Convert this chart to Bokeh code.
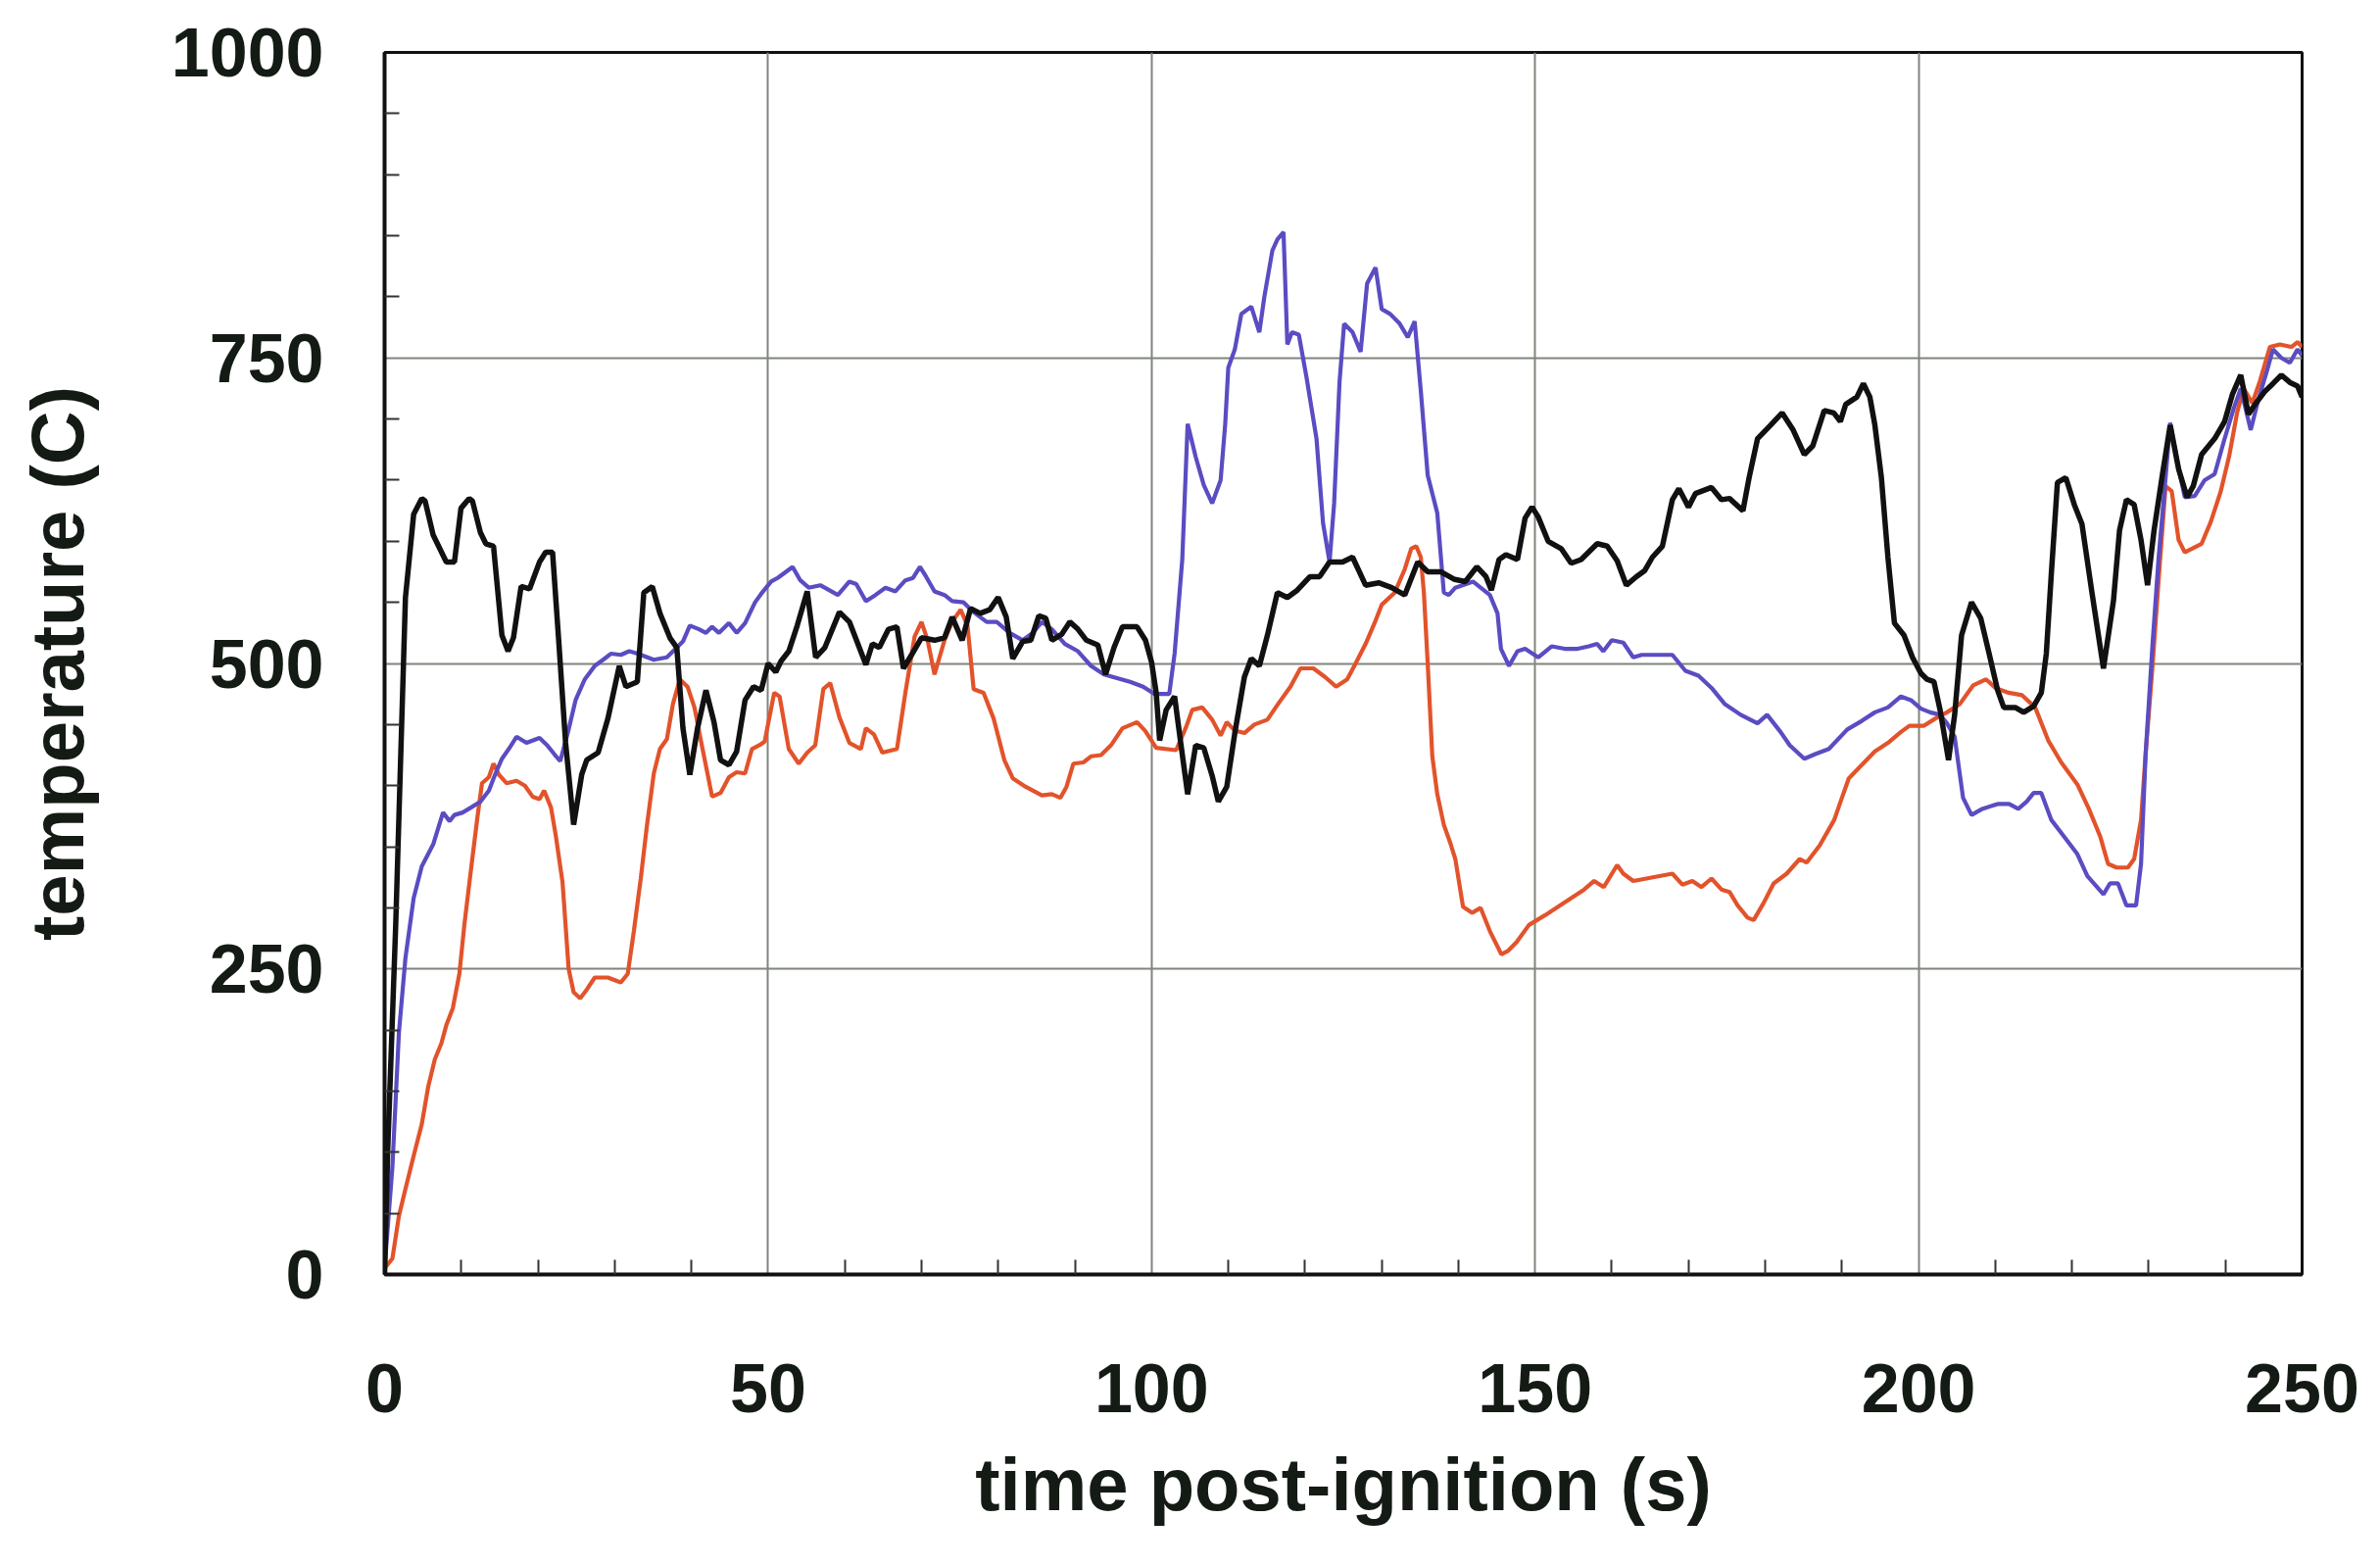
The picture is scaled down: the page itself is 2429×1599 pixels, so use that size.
from bokeh.plotting import figure
from bokeh.models import FixedTicker, Range1d
from bokeh.embed import file_html
from bokeh.resources import INLINE

# (time s, temperature C)
black_series = [
    (0, 0), (0.4, 100), (1.45, 286), (2.72, 554), (3.79, 622), (4.85, 635), (5.28, 633), (6.34, 605),
    (8.05, 583), (9.11, 583), (9.96, 627), (11.03, 635), (11.45, 633), (12.5, 607), (13.2, 598),
    (14.2, 596), (15.3, 523), (16.1, 510), (16.8, 521), (17.8, 563), (18.9, 561), (20.2, 583),
    (21.0, 591), (21.9, 591), (22.7, 519), (23.6, 435), (24.65, 368), (25.7, 409), (26.35, 421),
    (27.84, 427), (29.12, 455), (30.6, 498), (31.46, 481), (32.95, 485), (33.8, 558), (34.9, 563),
    (35.9, 541), (37.2, 521), (38.1, 513), (38.9, 447), (39.8, 409), (40.8, 447), (41.9, 478),
    (42.95, 452), (43.8, 421), (44.9, 417), (45.9, 428), (47.0, 470), (48.1, 481), (49.1, 478),
    (50.0, 500), (51.0, 493), (51.7, 502), (52.7, 510), (53.8, 531), (55.1, 559), (56.2, 505),
    (57.4, 513), (59.3, 542), (60.6, 534), (62.75, 499), (63.6, 516), (64.5, 513), (65.7, 528),
    (66.8, 530), (67.65, 496), (68.7, 507), (70.0, 521), (71.7, 519), (73.0, 521), (74.0, 538),
    (75.3, 519), (76.4, 545), (77.65, 541), (78.9, 544), (80.0, 554), (81.05, 538), (81.9, 504),
    (83.2, 518), (84.25, 519), (85.3, 539), (86.2, 537), (87.0, 519), (88.3, 524), (89.35, 534),
    (90.4, 528), (91.5, 519), (93.0, 515), (94.0, 491), (95.1, 513), (96.2, 530), (98.1, 530),
    (99.2, 519), (100.0, 501), (100.6, 476), (101.05, 437), (101.9, 462), (103.0, 473), (103.8, 435),
    (104.7, 393), (105.75, 433), (106.8, 431), (107.9, 408), (108.7, 387), (109.8, 399), (110.85, 443),
    (112.1, 489), (113.0, 504), (114.05, 498), (115.1, 523), (116.4, 558), (117.7, 554), (119.0, 560),
    (120.65, 571), (121.9, 571), (123.2, 583), (124.9, 583), (126.2, 587), (127.9, 564), (129.6, 566),
    (131.3, 562), (133.0, 556), (134.7, 583), (136.0, 575), (137.7, 575), (139.4, 569), (140.9, 567),
    (142.4, 579), (143.6, 571), (144.3, 560), (145.3, 585), (146.2, 589), (147.7, 585), (148.7, 619),
    (149.6, 628), (150.4, 620), (151.7, 600), (153.4, 594), (154.7, 582), (156.0, 585), (158.1, 598),
    (159.4, 596), (160.7, 584), (161.9, 564), (163.2, 571), (164.3, 576), (165.3, 587), (166.6, 596),
    (167.9, 634), (168.75, 643), (170.0, 628), (170.9, 639), (173.0, 644), (174.3, 634), (175.35, 635),
    (177.1, 625), (177.9, 652), (179.0, 684), (180.7, 695), (182.2, 705), (183.65, 691), (185.1, 671),
    (186.2, 678), (187.7, 707), (188.95, 705), (189.8, 698), (190.5, 712), (191.95, 718), (192.8, 729),
    (193.65, 718), (194.3, 695), (195.15, 652), (196.0, 587), (196.85, 533), (198.1, 523), (199.2, 505),
    (200.3, 492), (201.1, 487), (202.0, 485), (202.8, 462), (203.9, 421), (204.7, 458), (205.6, 523),
    (206.9, 550), (208.1, 537), (209.2, 508), (210.3, 478), (211.1, 464), (212.6, 464), (213.7, 460),
    (215.0, 465), (216.0, 476), (216.65, 508), (217.3, 573), (218.1, 648), (219.2, 652), (220.3, 630),
    (221.3, 614), (222.6, 558), (224.1, 496), (225.4, 551), (226.2, 609), (227.1, 634), (228.1, 630),
    (229.0, 601), (229.85, 564), (230.7, 609), (231.8, 655), (232.8, 695), (233.9, 659), (235.0, 636),
    (235.8, 645), (236.9, 671), (238.6, 684), (239.9, 698), (240.9, 720), (242.0, 736), (243.0, 704),
    (244.1, 714), (245.2, 723), (246.2, 729), (247.3, 736), (248.4, 730), (249.4, 727), (250.0, 718),
]

blue_series = [
    (0, 5), (1.02, 88), (1.87, 198), (2.72, 259), (3.79, 308), (4.85, 334), (6.34, 352), (7.62, 378),
    (8.47, 371), (9.11, 376), (10.17, 378), (11.24, 382), (12.5, 387), (13.6, 396), (14.4, 409),
    (15.3, 422), (16.3, 431), (17.2, 440), (18.5, 435), (20.2, 439), (21.2, 433), (22.1, 426),
    (22.9, 420), (24.0, 446), (24.9, 470), (26.1, 487), (27.4, 498), (28.7, 504), (29.5, 508),
    (30.8, 507), (31.9, 510), (33.0, 508), (35.1, 503), (36.8, 505), (38.1, 513), (38.9, 518),
    (39.8, 531), (41.0, 528), (41.9, 525), (42.7, 530), (43.6, 525), (44.9, 533), (45.9, 525),
    (47.0, 533), (48.3, 550), (49.1, 557), (50.4, 567), (51.25, 570), (53.2, 579), (54.2, 568),
    (55.3, 562), (56.8, 564), (59.1, 556), (60.6, 567), (61.5, 565), (62.75, 551), (64.0, 556),
    (65.3, 562), (66.6, 559), (67.9, 568), (68.9, 570), (69.8, 579), (70.6, 571), (71.7, 559),
    (73.0, 556), (74.0, 551), (75.5, 550), (76.8, 542), (78.5, 534), (79.8, 534), (81.5, 525),
    (83.2, 519), (84.5, 525), (85.7, 534), (87.0, 528), (88.7, 516), (90.4, 510), (92.1, 498),
    (93.8, 491), (95.5, 488), (97.2, 485), (98.9, 481), (100.4, 475), (102.3, 475), (103.0, 508),
    (104.0, 585), (104.7, 696), (105.75, 669), (106.8, 646), (107.9, 631), (109.0, 650), (109.6, 696),
    (110.0, 742), (110.85, 757), (111.7, 786), (113.0, 792), (114.05, 771), (114.7, 800), (115.75, 838),
    (116.4, 847), (117.2, 853), (117.7, 761), (118.3, 771), (119.2, 769), (120.2, 734), (121.5, 684),
    (122.35, 615), (123.2, 583), (123.8, 631), (124.5, 730), (125.1, 778), (126.2, 771), (127.25, 755),
    (128.1, 811), (129.2, 824), (130.0, 790), (131.1, 786), (132.35, 778), (133.4, 767), (134.3, 780),
    (135.1, 723), (136.0, 654), (137.25, 623), (138.1, 558), (138.75, 556), (139.6, 562), (141.9, 567),
    (144.1, 556), (145.1, 541), (145.55, 512), (146.6, 498), (147.7, 510), (148.7, 512), (150.4, 505),
    (152.15, 514), (153.85, 512), (155.55, 512), (157.0, 514), (158.1, 516), (158.9, 510), (160.0, 519),
    (161.5, 517), (162.8, 505), (163.9, 507), (165.3, 507), (167.9, 507), (169.6, 494), (171.3, 490),
    (173.0, 480), (174.7, 467), (176.8, 458), (179.0, 451), (180.25, 458), (182.0, 444), (183.2, 433),
    (185.1, 422), (186.6, 426), (188.3, 430), (190.7, 446), (192.6, 453), (194.3, 460), (196.0, 464),
    (197.7, 473), (199.0, 470), (200.3, 463), (201.5, 460), (202.8, 458), (203.7, 451), (204.7, 440),
    (205.8, 390), (206.9, 376), (208.3, 381), (210.3, 385), (211.8, 385), (213.0, 381), (214.1, 387),
    (215.0, 394), (216.0, 394), (217.3, 372), (219.0, 358), (220.7, 344), (222.0, 326), (224.1, 311),
    (224.95, 320), (226.0, 320), (227.1, 302), (228.35, 302), (229.0, 336), (229.6, 426), (230.5, 516),
    (231.3, 587), (232.2, 652), (232.8, 697), (233.7, 666), (234.7, 636), (236.0, 637), (237.3, 650),
    (238.6, 655), (239.9, 684), (241.1, 709), (242.0, 725), (243.3, 691), (244.3, 716), (245.4, 739),
    (246.2, 757), (247.3, 750), (248.4, 746), (249.4, 757), (250.0, 752),
]

orange_series = [
    (0, 5), (1.02, 13), (1.87, 48), (2.72, 70), (3.79, 97), (4.85, 123), (5.7, 154), (6.55, 176),
    (7.4, 189), (8.05, 204), (8.9, 218), (9.75, 246), (10.4, 286), (11.24, 330), (12.1, 374),
    (12.7, 402), (13.6, 407), (14.2, 418), (14.9, 409), (15.9, 402), (17.2, 404), (18.3, 400),
    (19.3, 391), (20.2, 389), (20.8, 396), (21.7, 382), (22.3, 360), (23.2, 321), (24.0, 250),
    (24.65, 231), (25.5, 226), (26.35, 233), (27.4, 243), (29.1, 243), (30.8, 239), (31.7, 246),
    (32.5, 281), (33.4, 324), (34.2, 367), (35.1, 410), (35.9, 430), (36.8, 438), (37.6, 467),
    (38.5, 487), (39.5, 481), (40.4, 464), (41.3, 435), (42.7, 391), (43.8, 394), (44.9, 407),
    (45.9, 411), (47.0, 410), (47.9, 430), (49.1, 434), (49.55, 436), (50.8, 476), (51.5, 473),
    (52.7, 430), (54.0, 418), (55.1, 427), (56.15, 433), (57.2, 479), (58.1, 484), (59.3, 456),
    (60.6, 435), (62.1, 430), (62.75, 447), (63.8, 442), (64.9, 427), (66.8, 430), (67.9, 476),
    (69.1, 522), (70.0, 534), (70.8, 519), (71.7, 491), (73.0, 519), (74.0, 534), (75.1, 544),
    (76.0, 531), (76.8, 479), (78.1, 476), (79.4, 455), (80.8, 421), (81.9, 406), (83.6, 399),
    (85.7, 392), (87.0, 393), (88.1, 390), (88.9, 399), (89.8, 418), (91.1, 419), (92.1, 424),
    (93.4, 425), (94.7, 433), (96.2, 447), (98.1, 452), (99.15, 445), (100.6, 431), (103.2, 429),
    (104.5, 448), (105.3, 462), (106.6, 464), (107.9, 454), (109.0, 441), (109.8, 452), (110.85, 445),
    (112.1, 443), (113.4, 450), (115.1, 454), (116.4, 466), (118.1, 481), (119.4, 496), (121.1, 496),
    (122.6, 489), (124.05, 481), (125.5, 487), (126.6, 500), (127.9, 516), (129.2, 535), (130.0, 548),
    (131.7, 558), (133.0, 577), (133.85, 594), (134.5, 596), (135.1, 587), (135.5, 558), (136.0, 500),
    (136.6, 424), (137.25, 393), (138.1, 368), (138.95, 353), (139.6, 340), (140.6, 301), (141.8, 296),
    (142.9, 300), (144.1, 281), (145.6, 262), (146.5, 265), (147.6, 272), (149.2, 286), (151.3, 294),
    (153.0, 301), (154.7, 308), (156.4, 315), (157.7, 322), (158.96, 317), (160.7, 335), (161.5, 328),
    (162.8, 322), (164.5, 324), (166.2, 326), (167.9, 328), (169.2, 319), (170.5, 322), (171.7, 317),
    (173.0, 324), (174.3, 315), (175.35, 313), (176.4, 302), (177.7, 292), (178.5, 290), (179.8, 304),
    (181.1, 320), (182.8, 328), (184.5, 340), (185.4, 337), (187.1, 351), (189.0, 372), (190.0, 390),
    (190.9, 406), (192.6, 417), (194.3, 428), (196.0, 435), (197.7, 444), (198.8, 449), (200.7, 449),
    (202.2, 455), (203.7, 460), (205.4, 467), (207.1, 482), (208.8, 487), (210.0, 480), (211.75, 476),
    (213.5, 474), (215.2, 464), (216.9, 437), (218.6, 419), (220.7, 401), (222.2, 381), (223.7, 358),
    (224.7, 336), (225.8, 333), (227.3, 333), (228.1, 340), (229.0, 372), (229.6, 426), (230.5, 498),
    (231.3, 569), (232.2, 645), (233.0, 641), (233.9, 601), (234.7, 591), (236.9, 598), (238.1, 616),
    (239.4, 641), (240.5, 670), (241.55, 706), (242.4, 725), (243.5, 713), (244.5, 731), (245.8, 759),
    (247.1, 761), (248.6, 759), (249.4, 763), (250.0, 759),
]

x_ticks = [0, 50, 100, 150, 200, 250]
x_minor = [10, 20, 30, 40, 60, 70, 80, 90, 110, 120, 130, 140, 160, 170, 180, 190, 210, 220, 230, 240]
y_ticks = [0, 250, 500, 750, 1000]
y_minor = [50, 100, 150, 200, 300, 350, 400, 450, 550, 600, 650, 700, 800, 850, 900, 950]

FONT = "Liberation Sans"
TXT = "#141a14"

p = figure(width=2429, height=1599, output_backend="svg", toolbar_location=None,
           x_range=Range1d(0, 250), y_range=Range1d(0, 1000),
           min_border_left=392, min_border_right=80, min_border_top=53, min_border_bottom=299)
p.background_fill_color = "white"
p.border_fill_color = "white"
p.outline_line_color = "#111111"
p.outline_line_width = 3

p.xaxis.ticker = FixedTicker(ticks=x_ticks, minor_ticks=x_minor)
p.yaxis.ticker = FixedTicker(ticks=y_ticks, minor_ticks=y_minor)

for ax in (p.xaxis[0], p.yaxis[0]):
    ax.axis_line_color = "#111111"
    ax.axis_line_width = 4
    ax.major_tick_in = 0
    ax.major_tick_out = 0
    ax.minor_tick_in = 15
    ax.minor_tick_out = 0
    ax.minor_tick_line_color = "#333333"
    ax.minor_tick_line_width = 2
    ax.major_label_text_font = FONT
    ax.major_label_text_font_style = "bold"
    ax.major_label_text_font_size = "70px"
    ax.major_label_text_color = TXT
    ax.axis_label_text_font = FONT
    ax.axis_label_text_font_style = "bold"
    ax.axis_label_text_font_size = "76px"
    ax.axis_label_text_color = TXT

p.xaxis.major_label_standoff = 91
p.yaxis.major_label_standoff = 62
p.xaxis.axis_label = "time post-ignition (s)"
p.yaxis.axis_label = "temperature (C)"
p.xaxis.axis_label_standoff = 28
p.yaxis.axis_label_standoff = 71

p.grid.grid_line_color = "#7e867b"
p.grid.grid_line_width = 2

def draw(series, color, width):
    xs = [a for a, b in series]
    ys = [b for a, b in series]
    p.line(xs, ys, line_color=color, line_width=width)

draw(orange_series, "#e2532b", 4.2)
draw(blue_series, "#5a4cc2", 4.2)
draw(black_series, "#111111", 5.5)

open("out.html", "w").write(file_html(p, INLINE))
